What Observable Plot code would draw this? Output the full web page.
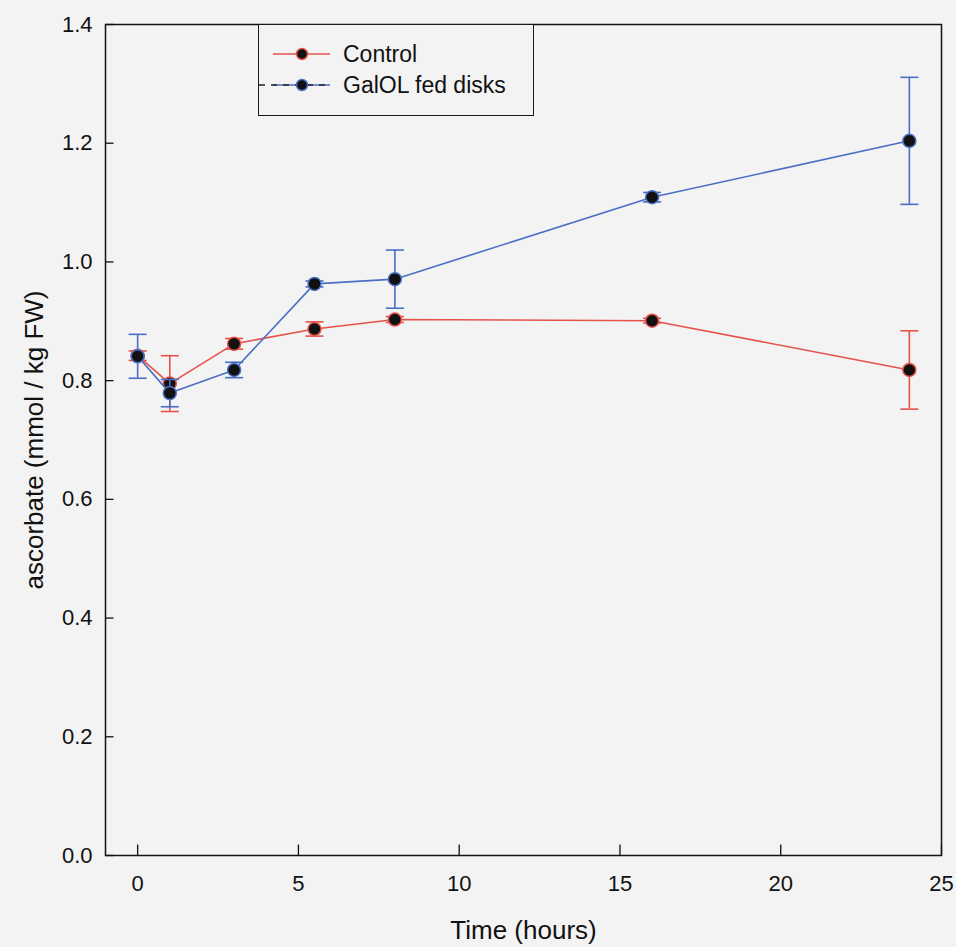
<!DOCTYPE html>
<html>
<head>
<meta charset="utf-8">
<script src="https://cdn.jsdelivr.net/npm/d3@7"></script>
<script src="https://cdn.jsdelivr.net/npm/@observablehq/plot@0.6"></script>
<style>
  html, body { margin: 0; padding: 0; background: #f3f3f3; }
  #wrap { position: relative; width: 956px; height: 947px; font-family: "Liberation Sans", Arial, sans-serif; }
  #legend { position: absolute; left: 258px; top: 24px; width: 276px; height: 92px; box-sizing: border-box;
            border: 1.5px solid #1a1a1a; background: #f3f3f3; }
  .entry { position: absolute; left: 0; height: 30px; display: flex; align-items: center; }
  .entry span { font-size: 23px; color: #111; margin-left: 12px; }
</style>
</head>
<body>
<div id="wrap"></div>
<script>
// ---- data ----
const timeHours   = [0, 1, 3, 5.5, 8, 16, 24];
const seriesNames = ["Control", "GalOL fed disks"];
const controlMean = [0.842, 0.795, 0.862, 0.887, 0.903, 0.901, 0.818];
const controlErr  = [0.008, 0.047, 0.009, 0.012, 0.005, 0.004, 0.066];
const galolMean   = [0.841, 0.779, 0.818, 0.963, 0.971, 1.109, 1.204];
const galolErr    = [0.037, 0.023, 0.013, 0.005, 0.049, 0.008, 0.107];
const xTicks = [0, 5, 10, 15, 20, 25];
const yTicks = [0, 0.2, 0.4, 0.6, 0.8, 1.0, 1.2, 1.4];
const xLabel = "Time (hours)";
const yLabel = "ascorbate (mmol / kg FW)";
const seriesColors = ["#e5534b", "#4a6fc3"];

const means = [controlMean, galolMean];
const errs = [controlErr, galolErr];
const rows = seriesNames.map((name, s) => timeHours.map((t, i) => ({
  series: name, t, v: means[s][i], lo: means[s][i] - errs[s][i], hi: means[s][i] + errs[s][i]
})));

// custom symbols: horizontal cap, inward x tick, inward y tick
const capSymbol = { draw(ctx, size) { const r = Math.sqrt(size / Math.PI); ctx.moveTo(-r, 0); ctx.lineTo(r, 0); } };
const upTick = { draw(ctx, size) { const r = Math.sqrt(size / Math.PI); ctx.moveTo(0, 0); ctx.lineTo(0, -r); } };
const rightTick = { draw(ctx, size) { const r = Math.sqrt(size / Math.PI); ctx.moveTo(0, 0); ctx.lineTo(r, 0); } };

const seriesMarks = rows.flatMap((data, s) => [
  Plot.ruleX(data, { x: "t", y1: "lo", y2: "hi", stroke: seriesColors[s], strokeWidth: 1.6 }),
  Plot.dot(data, { x: "t", y: "hi", symbol: capSymbol, r: 9, fill: "none", stroke: seriesColors[s], strokeWidth: 1.6 }),
  Plot.dot(data, { x: "t", y: "lo", symbol: capSymbol, r: 9, fill: "none", stroke: seriesColors[s], strokeWidth: 1.6 }),
  Plot.line(data, { x: "t", y: "v", stroke: seriesColors[s], strokeWidth: 1.6 }),
  Plot.dot(data, { x: "t", y: "v", r: 6.5, fill: "#111", stroke: seriesColors[s], strokeWidth: 1.5 })
]);

const chart = Plot.plot({
  width: 956, height: 947,
  marginLeft: 105, marginRight: 15, marginTop: 24, marginBottom: 92,
  style: { background: "transparent", fontFamily: "Liberation Sans, Arial, sans-serif", fontSize: "21px", color: "#111", overflow: "visible" },
  x: { domain: [-1, 25] },
  y: { domain: [0, 1.4] },
  marks: [
    Plot.axisX(xTicks, { tickSize: 0, tickPadding: 20, label: null, fontSize: 22 }),
    Plot.axisY(yTicks, { tickSize: 0, tickPadding: 13, label: null, fontSize: 22, tickFormat: d3.format(".1f") }),
    Plot.dot(xTicks, { x: d => d, y: () => 0, symbol: upTick, r: 11, fill: "none", stroke: "#111", strokeWidth: 1.3 }),
    Plot.dot(yTicks, { x: () => -1, y: d => d, symbol: rightTick, r: 8, fill: "none", stroke: "#111", strokeWidth: 1.3 }),
    ...seriesMarks,
    Plot.frame({ stroke: "#111", strokeWidth: 1.5 }),
    Plot.text([xLabel], { text: d => d, frameAnchor: "bottom", dy: 75, textAnchor: "middle", lineAnchor: "middle", fontSize: 26, fill: "#111" }),
    Plot.text([yLabel], { text: d => d, frameAnchor: "left", dx: -71, rotate: -90, textAnchor: "middle", lineAnchor: "middle", fontSize: 26, fill: "#111" })
  ]
});

const wrap = document.getElementById("wrap");
wrap.appendChild(chart);

// legend
const legend = d3.select(wrap).append("div").attr("id", "legend");
seriesNames.forEach((name, s) => {
  const e = legend.append("div").attr("class", "entry").style("top", (14 + s * 31) + "px");
  const svg = e.append("svg").attr("width", 72).attr("height", 30);
  svg.append("line").attr("x1", 14).attr("x2", 71).attr("y1", 15).attr("y2", 15)
    .attr("stroke", seriesColors[s]).attr("stroke-width", 1.6);
  if (s === 1) {
    svg.append("line").attr("x1", 0).attr("x2", 71).attr("y1", 15).attr("y2", 15)
      .attr("stroke", "#222").attr("stroke-width", 1.4).attr("stroke-dasharray", "6,6");
  }
  svg.append("circle").attr("cx", 43).attr("cy", 15).attr("r", 5.5)
    .attr("fill", "#111").attr("stroke", seriesColors[s]).attr("stroke-width", 1.5);
  e.append("span").text(name);
});
</script>
</body>
</html>
